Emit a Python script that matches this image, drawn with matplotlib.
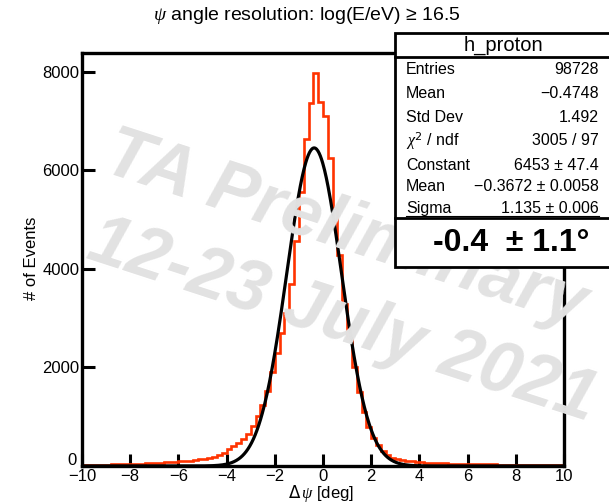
import numpy as np
import matplotlib
matplotlib.use('Agg')
import matplotlib.pyplot as plt
import matplotlib.transforms as mtransforms
from matplotlib.patches import Rectangle
from matplotlib.lines import Line2D

plt.rcParams['font.family'] = ['Liberation Sans', 'DejaVu Sans']
plt.rcParams['mathtext.fontset'] = 'custom'
plt.rcParams['mathtext.it'] = 'Liberation Serif:italic'

# histogram h_proton: 100 bins from -10 to 10 deg
bin_edges = np.linspace(-10, 10, 101)
counts = [18, 20, 22, 24, 26, 30, 32, 35, 38, 41,
          44, 47, 50, 54, 58, 62, 67, 72, 78, 85,
          92, 100, 110, 122, 135,
          150, 168, 190, 215,
          270, 340, 405, 470, 545, 640, 820, 1020, 1230, 1530,
          1900, 2300, 2700, 3100, 3700, 4560, 5550, 6630, 7370, 7980,
          7390,
          7100, 6240, 5230, 4280, 3290, 2600, 2000, 1500, 1100, 800,
          570, 420, 300, 220, 170, 140, 120, 105, 92, 82,
          74, 68, 63, 59, 55, 52, 49, 46, 44, 42,
          40, 38, 36, 35, 33, 32, 30, 29, 28, 27,
          26, 25, 24, 23, 22, 21, 20, 19, 18, 17]

# gaussian fit parameters (from the stats box)
fit_const = 6453.0
fit_mean = -0.3672
fit_sigma = 1.135

stat_names = ['Entries', 'Mean', 'Std Dev', r'$\chi^2$ / ndf', 'Constant', 'Mean', 'Sigma']
stat_values = ['98728', '\u22120.4748', '1.492', '3005 / 97', '6453 \u00b1 47.4',
               '\u22120.3672 \u00b1 0.0058', '1.135 \u00b1 0.006']

W, H = 609, 504
fig = plt.figure(figsize=(W / 100, H / 100), dpi=100)

def fx(px):
    return px / W

def fy(py):
    return 1 - py / H

# watermark
wm = dict(fontsize=52, fontweight='bold', fontstyle='italic', color='#e2e2e2',
          rotation=-18, ha='center', va='center', zorder=0, rotation_mode='anchor')
fig.text(fx(345), fy(230), 'TA Preliminary', **wm)
fig.text(fx(342), fy(322), '12-23 July 2021', **wm)

ax = fig.add_axes([fx(82), fy(466), fx(564) - fx(82), fy(53) - fy(466)])
ax.patch.set_alpha(0)

ax.stairs(counts, bin_edges, color='#ff3300', lw=1.9, zorder=2)
xf = np.linspace(-10, 10, 800)
yf = fit_const * np.exp(-0.5 * ((xf - fit_mean) / fit_sigma) ** 2)
ax.plot(xf, yf, color='black', lw=2.3, zorder=3)

ax.set_xlim(-10, 10)
ax.set_ylim(0, 1.05 * max(counts))
ax.set_xticks(np.arange(-10, 11, 2))
ax.set_yticks([0, 2000, 4000, 6000, 8000])
ax.tick_params(direction='in', length=9, width=2.2, labelsize=12, pad=2)
for s in ax.spines.values():
    s.set_linewidth(2.4)
# lift the y "0" label a little so it clears the x "-10" label
fig.canvas.draw()
ylab0 = ax.get_yticklabels()[0]
ylab0.set_transform(ylab0.get_transform() + mtransforms.ScaledTranslation(-3 / 100, 7 / 100, fig.dpi_scale_trans))

fig.text(fx(321), fy(494), r'$\Delta\,\psi$ [deg]', fontsize=12, ha='center', va='center')
fig.text(fx(32), fy(258), '# of Events', fontsize=12, ha='center', va='center', rotation=90)
fig.text(fx(307), fy(15), '$\\psi$ angle resolution: log(E/eV) \u2265 16.5', fontsize=14,
         ha='center', va='center')

# stats box
bx0, bx1, by0, by1 = 395, 620, 32.7, 266.7
fig.patches.append(Rectangle((fx(bx0), fy(by1)), fx(bx1) - fx(bx0), fy(by0) - fy(by1),
                             transform=fig.transFigure, facecolor='white', edgecolor='black',
                             lw=2.0, zorder=5))
for yy in [56.7, 218]:
    fig.lines.append(Line2D([fx(bx0), fx(bx1)], [fy(yy), fy(yy)], transform=fig.transFigure,
                            color='black', lw=2.0, zorder=6))
fig.text(fx(503), fy(45), 'h_proton', fontsize=14.5, ha='center', va='center', zorder=7)
row_y = [70, 93.3, 117.3, 140.7, 165, 186.7, 208.3]
for name, val, yy in zip(stat_names, stat_values, row_y):
    fig.text(fx(406), fy(yy), name, fontsize=11.5, ha='left', va='center', zorder=7)
    fig.text(fx(599), fy(yy), val, fontsize=11.5, ha='right', va='center', zorder=7)
fig.lines.append(Line2D([fx(406), fx(599)], [fy(216), fy(216)], transform=fig.transFigure,
                        color='black', lw=0.8, zorder=6))
fig.text(fx(511), fy(243), '-0.4  \u00b1 1.1\u00b0', fontsize=23, fontweight='bold',
         ha='center', va='center', zorder=7)

fig.savefig('out.png', dpi=100)
